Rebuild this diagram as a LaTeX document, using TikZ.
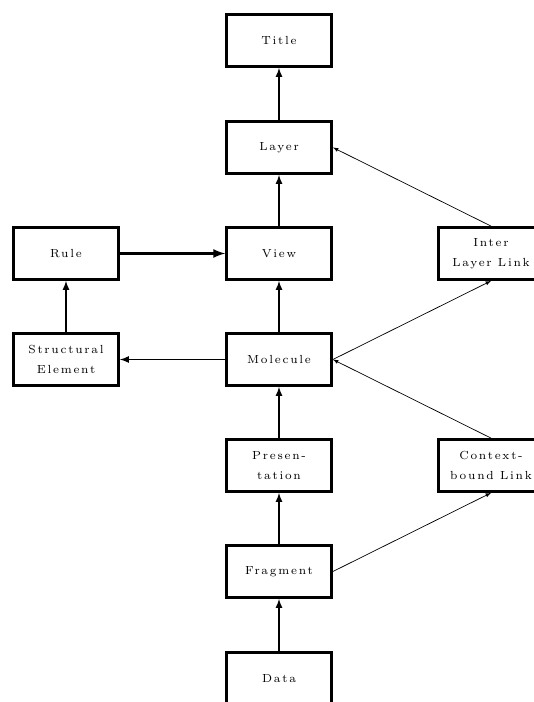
\documentclass[tikz,border=0pt]{standalone}
\usepackage{fontspec}
\newfontfamily\boxfont{lmroman7-regular.otf}[LetterSpace=15]
\begin{document}
\begin{tikzpicture}[x=0.03cm,y=-0.03cm,
    box/.style={draw,line width=2.4pt,minimum width=3.15cm,minimum height=1.56cm,inner sep=0pt,align=center,
      font={\boxfont\baselineskip=17pt}},
    up/.style={->,>=latex,line width=1.6pt},
    link/.style={->,>=latex,line width=0.6pt}]
    \useasboundingbox (0,0) rectangle (534,702);
    \node[box] (title) at (279,40.5) {Title};
    \node[box] (layer) at (279,147.5) {Layer};
    \node[box] (view) at (279,253.5) {View};
    \node[box] (rule) at (66,253.5) {Rule};
    \node[box] (inter) at (491,253.5) {Inter\\Layer Link};
    \node[box] (struct) at (66,359.5) {Structural\\Element};
    \node[box] (molecule) at (279,359.5) {Molecule};
    \node[box] (present) at (279,465.5) {Presen-\\tation};
    \node[box] (context) at (491,465.5) {Context-\\bound Link};
    \node[box] (fragment) at (279,571.5) {Fragment};
    \node[box] (data) at (279,678.5) {Data};
    \draw[up] (layer) -- (title);
    \draw[up] (view) -- (layer);
    \draw[up] (molecule) -- (view);
    \draw[up] (present) -- (molecule);
    \draw[up] (fragment) -- (present);
    \draw[up] (data) -- (fragment);
    \draw[up,line width=2.4pt] (rule) -- (view);
    \draw[up] (struct) -- (rule);
    \draw[up] (molecule) -- (struct);
    \draw[link] (inter.north) -- (layer.east);
    \draw[link] (molecule.east) -- (inter.south);
    \draw[link] (context.north) -- (molecule.east);
    \draw[link] (fragment.east) -- (context.south);
  \end{tikzpicture}
\end{document}
